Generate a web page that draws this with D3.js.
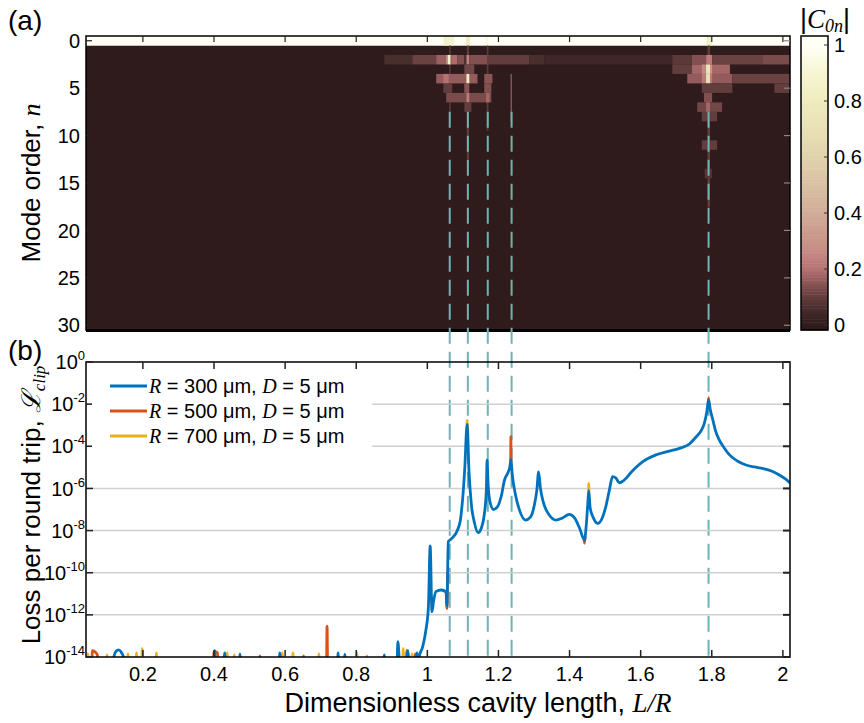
<!DOCTYPE html>
<html>
<head>
<meta charset="utf-8">
<script src="https://cdn.jsdelivr.net/npm/d3@7"></script>
<style>
body{margin:0;background:#fff}
svg{display:block}
text{font-family:"Liberation Sans",Arial,sans-serif;fill:#000}
.it{font-family:"Liberation Serif","Times New Roman",serif;font-style:italic}
</style>
</head>
<body>
<svg id="fig" width="864" height="723"></svg>
<script>
// ---- data ----
const xTicks = [0.2,0.4,0.6,0.8,1,1.2,1.4,1.6,1.8,2];
const xTickLabels = ["0.2","0.4","0.6","0.8","1","1.2","1.4","1.6","1.8","2"];
const nTicks = [0,5,10,15,20,25,30];
const lossExps = [0,-2,-4,-6,-8,-10,-12,-14];
const cbTicks = [0,0.2,0.4,0.6,0.8,1];
const cbTickLabels = ["0","0.2","0.4","0.6","0.8","1"];
const dashL = [1.063,1.114,1.170,1.237,1.791]; // resonances marked in both panels

// colormap
const cmapStops  = [0,0.05,0.1,0.15,0.2,0.25,0.3,0.4,0.5,0.6,0.7,0.8,0.9,1];
const cmapColors = ["#2f1b1b","#432a2a","#623d3d","#8a5555","#b57272","#c48682","#ca9488",
                    "#d2ac98","#d9c0a2","#e0d2ac","#e8e0b4","#efebbe","#f6f5d0","#fffff6"];

// |C0n| patches: [nFrom, nTo, L0, L1, value]
const heatStreaks = [
  [1,8,1.061,1.066,0.08],[1,12,1.111,1.117,0.10],[1,9,1.167,1.172,0.09],
  [4,8,1.234,1.238,0.15],[1,17,1.788,1.795,0.10]
];
const heatRow0 = [
  [0,0,0.04,2.02,1.0],[0,0,1.045,1.075,0.88],[0,0,1.108,1.120,0.83],
  [0,0,1.165,1.172,0.93],[0,0,1.785,1.800,0.84]
];
const heatRows = [
  [2,2,0.879,0.958,0.06],[2,2,0.958,1.025,0.11],[2,2,1.025,1.053,0.17],[2,2,1.053,1.057,0.35],
  [2,2,1.057,1.064,0.85],[2,2,1.064,1.067,0.40],[2,2,1.067,1.084,0.19],[2,2,1.084,1.104,0.14],
  [2,2,1.104,1.110,0.07],[2,2,1.110,1.118,0.24],[2,2,1.118,1.169,0.14],[2,2,1.169,1.287,0.10],
  [2,2,1.287,1.329,0.06],[2,2,1.329,1.689,0.04],[2,2,1.689,1.744,0.09],[2,2,1.744,1.784,0.14],
  [2,2,1.784,1.801,0.22],[2,2,1.801,1.942,0.11],[2,2,1.942,2.02,0.13],
  [3,3,1.104,1.132,0.12],[3,3,1.689,1.744,0.10],[3,3,1.744,1.851,0.18],[3,3,1.772,1.784,0.25],
  [3,3,1.784,1.795,0.75],[3,3,1.795,1.801,0.30],
  [4,4,1.025,1.141,0.16],[4,4,1.045,1.060,0.20],[4,4,1.110,1.118,0.82],[4,4,1.160,1.183,0.15],
  [4,4,1.731,1.858,0.16],[4,4,1.772,1.801,0.22],[4,4,1.784,1.795,0.70],[4,4,1.858,2.02,0.11],
  [5,5,1.045,1.070,0.10],[5,5,1.104,1.118,0.15],[5,5,1.160,1.180,0.14],[5,5,1.772,1.858,0.10],
  [5,5,1.976,2.02,0.10],
  [6,6,1.053,1.180,0.13],[6,6,1.110,1.118,0.22],[6,6,1.165,1.175,0.18],[6,6,1.778,1.801,0.14],
  [7,7,1.104,1.124,0.10],[7,7,1.759,1.829,0.12],[7,7,1.784,1.795,0.18],
  [8,8,1.772,1.815,0.10],[11,11,1.772,1.815,0.10],[14,14,1.780,1.800,0.08]
];

// loss per round trip, [L/R, log10 loss]; null = gap
const blueLoss = [
  [0.040,-15],[0.116,-15],[0.119,-13.95],[0.125,-13.72],[0.132,-13.66],[0.140,-13.8],[0.146,-14.05],[0.152,-15],
  [0.398,-15],[0.402,-13.7],[0.406,-15],[0.426,-15],[0.430,-13.8],[0.434,-15],
  [0.470,-15],[0.473,-13.86],[0.476,-15],[0.582,-15],[0.585,-13.8],[0.588,-15],
  [0.746,-15],[0.749,-13.8],[0.752,-15],[0.765,-15],[0.768,-13.88],[0.771,-15],
  [0.876,-15],[0.879,-13.9],[0.882,-15],[0.914,-15],[0.917,-13.27],[0.920,-13.85],[0.923,-15],
  [0.941,-15],[0.945,-13.7],[0.949,-15],[0.967,-15],[0.971,-13.8],[0.974,-14.3],
  [0.977,-13.99],[0.987,-13.51],[0.996,-12.72],[1.003,-11.63],[1.008,-8.73],[1.013,-11.85],
  [1.018,-11.3],[1.024,-10.9],[1.039,-10.82],[1.053,-10.92],[1.055,-11.58],[1.059,-8.53],
  [1.067,-8.4],[1.085,-7.97],[1.093,-7.5],[1.099,-6.55],[1.105,-5.13],[1.112,-2.96],[1.117,-5.13],
  [1.124,-6.79],[1.132,-7.59],[1.143,-8.1],[1.152,-7.88],[1.160,-7.26],[1.166,-6.08],[1.168,-4.65],
  [1.171,-5.84],[1.177,-6.69],[1.186,-7.0],[1.197,-6.88],[1.208,-6.36],[1.217,-5.6],[1.226,-5.28],
  [1.232,-4.98],[1.235,-4.62],[1.239,-5.36],[1.248,-6.31],[1.259,-7.02],[1.276,-7.5],[1.290,-7.36],
  [1.301,-6.79],[1.308,-6.08],[1.313,-5.21],[1.318,-5.98],[1.326,-6.64],[1.343,-7.26],[1.362,-7.5],
  [1.380,-7.4],[1.399,-7.23],[1.414,-7.4],[1.428,-7.88],[1.442,-8.45],[1.447,-7.74],[1.451,-6.79],
  [1.454,-6.11],[1.458,-6.93],[1.467,-7.4],[1.479,-7.66],[1.492,-7.4],[1.503,-6.79],[1.512,-6.08],
  [1.521,-5.44],[1.530,-5.5],[1.540,-5.73],[1.554,-5.6],[1.574,-5.22],[1.606,-4.73],[1.643,-4.41],
  [1.675,-4.25],[1.709,-4.1],[1.737,-3.89],[1.756,-3.55],[1.771,-3.23],[1.779,-2.91],[1.786,-2.37],
  [1.791,-1.8],[1.796,-2.28],[1.803,-2.75],[1.810,-3.23],[1.821,-3.7],[1.835,-4.08],[1.850,-4.41],
  [1.872,-4.7],[1.896,-4.89],[1.920,-4.98],[1.943,-5.05],[1.968,-5.17],[1.990,-5.36],[2.007,-5.55],
  [2.020,-5.74]
];
const orangeLoss = [
  [0.040,-15],[0.055,-15],[0.058,-13.7],[0.065,-13.75],[0.072,-13.9],[0.076,-15],
  [0.397,-15],[0.400,-13.75],[0.410,-13.8],[0.414,-15],[0.527,-15],[0.529,-13.95],[0.531,-15],
  [0.584,-15],[0.586,-13.9],[0.588,-15],[0.650,-15],[0.652,-13.95],[0.654,-15],
  [0.716,-15],[0.718,-12.53],[0.720,-15],[0.940,-15],[0.942,-13.7],[0.946,-13.9],[0.950,-15],
  [0.963,-15],[0.966,-13.85],[0.969,-15],null,
  [1.053,-10.92],[1.055,-11.7],[1.057,-10.0],null,
  [1.2345,-4.7],[1.235,-3.54],[1.2355,-4.7],null,
  [1.440,-8.3],[1.442,-8.6],[1.444,-8.3],null,
  [1.790,-2.0],[1.791,-1.69],[1.792,-2.0]
];
const yellowLoss = [
  [0.040,-15],[0.045,-13.85],[0.050,-15],[0.097,-15],[0.099,-13.9],[0.101,-15],
  [0.155,-15],[0.158,-13.85],[0.161,-15],[0.180,-15],[0.182,-13.8],[0.185,-15],
  [0.196,-15],[0.198,-13.6],[0.201,-15],[0.236,-15],[0.238,-13.8],[0.241,-15],
  [0.435,-15],[0.437,-13.8],[0.440,-15],[0.455,-15],[0.457,-13.9],[0.460,-15],
  [0.590,-15],[0.592,-13.8],[0.595,-15],[0.620,-15],[0.622,-13.8],[0.625,-15],
  [0.693,-15],[0.695,-13.85],[0.698,-15],[0.800,-15],[0.802,-13.8],[0.805,-15],
  [0.828,-15],[0.830,-13.95],[0.833,-15],[0.930,-15],[0.932,-13.6],[0.935,-15],
  [0.955,-15],[0.957,-13.85],[0.960,-15],null,
  [1.1115,-3.2],[1.112,-2.77],[1.1125,-3.2],null,
  [1.4535,-6.3],[1.454,-5.76],[1.4545,-6.3]
];
const seriesNames = ["300","500","700"];
const seriesColors = ["#0072bd","#d95319","#edb120"];

// ---- layout ----
const svg = d3.select("#fig");
const left = 86, right = 790;
const x = d3.scaleLinear().domain([0.04, 2.02]).range([left, right]);
const yN = d3.scaleLinear().domain([-0.5, 30.5]).range([36, 330]);
const yB = d3.scaleLog().domain([1e-14, 1]).range([657, 362]);
const color = d3.scaleLinear().domain(cmapStops).range(cmapColors).clamp(true);
const cb = d3.scaleLinear().domain([0, 1]).range([325, 45]);

// ---- panel (a): heatmap ----
const gA = svg.append("g");
gA.append("rect").attr("x", left).attr("y", yN(0.5)).attr("width", right-left)
  .attr("height", yN(30.5)-yN(0.5)).attr("fill", color(0));
gA.selectAll("rect.cell").data(heatRow0.concat(heatStreaks, heatRows)).join("rect")
  .attr("class","cell")
  .attr("x", d => x(d[2])).attr("width", d => x(d[3]) - x(d[2]))
  .attr("y", d => yN(d[0]-0.5)).attr("height", d => yN(d[1]+0.5) - yN(d[0]-0.5))
  .attr("fill", d => color(d[4]));

// ---- dashed markers spanning both panels ----
svg.append("g").selectAll("line").data(dashL).join("line")
  .attr("x1", d => x(d)).attr("x2", d => x(d))
  .attr("y1", yN(7.5)).attr("y2", yB(1e-14))
  .attr("stroke", "#6fb3b3").attr("stroke-width", 2).attr("stroke-dasharray", "16,8");

// heatmap frame and ticks
gA.append("rect").attr("x", left).attr("y", 36).attr("width", right-left).attr("height", 294)
  .attr("fill","none").attr("stroke","#000").attr("stroke-width",1.5);
gA.append("line").attr("x1", left).attr("x2", right).attr("y1", 330.5).attr("y2", 330.5)
  .attr("stroke","#000").attr("stroke-width",3);
gA.selectAll("line.tt").data(xTicks).join("line").attr("class","tt")
  .attr("x1", d => x(d)).attr("x2", d => x(d)).attr("y1", 36).attr("y2", 42)
  .attr("stroke","#222").attr("stroke-width",1.2);
gA.selectAll("line.lt").data(nTicks).join("line").attr("class","lt")
  .attr("x1", left).attr("x2", left+6).attr("y1", d => yN(d)).attr("y2", d => yN(d))
  .attr("stroke","#222").attr("stroke-width",1.2);
gA.selectAll("line.rt").data(nTicks).join("line").attr("class","rt")
  .attr("x1", right).attr("x2", right-6).attr("y1", d => yN(d)).attr("y2", d => yN(d))
  .attr("stroke","#888").attr("stroke-width",1.2);
gA.selectAll("text.nl").data(nTicks).join("text").attr("class","nl")
  .attr("x", 80).attr("y", d => yN(d)).attr("dy","0.36em")
  .attr("text-anchor","end").attr("font-size",20).text(d => d);

// colorbar
const cbG = svg.append("g");
const cbSteps = d3.range(-0.02, 1.04, 0.01);
cbG.selectAll("rect").data(cbSteps).join("rect")
  .attr("x", 801).attr("width", 27)
  .attr("y", d => Math.max(36, cb(d + 0.01))).attr("height", d => Math.min(330, cb(d)) - Math.max(36, cb(d + 0.01)) + 0.5)
  .attr("fill", d => color(d + 0.005));
cbG.append("rect").attr("x", 801).attr("y", 36).attr("width", 27).attr("height", 294)
  .attr("fill","none").attr("stroke","#000").attr("stroke-width",1.5);
cbG.selectAll("line").data(cbTicks).join("line")
  .attr("x1", 828).attr("x2", 824).attr("y1", d => cb(d)).attr("y2", d => cb(d))
  .attr("stroke","#333").attr("stroke-width",1);
cbG.selectAll("text").data(cbTicks).join("text")
  .attr("x", 834).attr("y", d => cb(d)).attr("dy","0.36em").attr("font-size",20)
  .text((d,i) => cbTickLabels[i]);
const cbTitle = svg.append("text").attr("x", 800).attr("y", 28).attr("font-size", 27)
  .attr("font-family","Liberation Serif, serif");
cbTitle.append("tspan").text("|");
cbTitle.append("tspan").attr("class","it").text("C");
cbTitle.append("tspan").attr("class","it").attr("font-size",18).attr("dy",4).text("0n");
cbTitle.append("tspan").attr("dy",-4).text("|");

// ---- panel (b): loss ----
const gB = svg.append("g");
gB.selectAll("line.grid").data(lossExps.slice(1, -1)).join("line").attr("class","grid")
  .attr("x1", left).attr("x2", right).attr("y1", d => yB(10 ** d)).attr("y2", d => yB(10 ** d))
  .attr("stroke","#d0d0d0").attr("stroke-width",1.5);

svg.append("defs").append("clipPath").attr("id","clipB").append("rect")
  .attr("x", left).attr("y", 362).attr("width", right-left).attr("height", 295);
const line = d3.line().defined(d => d !== null)
  .x(d => x(d[0])).y(d => yB(10 ** d[1])).curve(d3.curveMonotoneX);
const curves = [blueLoss, orangeLoss, yellowLoss];
gB.append("g").attr("clip-path","url(#clipB)").selectAll("path")
  .data([2,1,0]).join("path")
  .attr("d", i => line(curves[i])).attr("fill","none")
  .attr("stroke", i => seriesColors[i]).attr("stroke-width", 2.8)
  .attr("stroke-linejoin","round");

gB.append("rect").attr("x", left).attr("y", 362).attr("width", right-left).attr("height", 295)
  .attr("fill","none").attr("stroke","#000").attr("stroke-width",1.5);
gB.selectAll("line.bt").data(xTicks).join("line").attr("class","bt")
  .attr("x1", d => x(d)).attr("x2", d => x(d)).attr("y1", 657).attr("y2", 650)
  .attr("stroke","#222").attr("stroke-width",1.5);
gB.selectAll("line.tt").data(xTicks).join("line").attr("class","tt")
  .attr("x1", d => x(d)).attr("x2", d => x(d)).attr("y1", 362).attr("y2", 369)
  .attr("stroke","#222").attr("stroke-width",1.5);
gB.selectAll("line.lt").data(lossExps).join("line").attr("class","lt")
  .attr("x1", left).attr("x2", left+7).attr("y1", d => yB(10 ** d)).attr("y2", d => yB(10 ** d))
  .attr("stroke","#222").attr("stroke-width",1.5);
gB.selectAll("line.rt").data(lossExps).join("line").attr("class","rt")
  .attr("x1", right).attr("x2", right-7).attr("y1", d => yB(10 ** d)).attr("y2", d => yB(10 ** d))
  .attr("stroke","#222").attr("stroke-width",2);
gB.selectAll("text.xl").data(xTicks).join("text").attr("class","xl")
  .attr("x", d => x(d)).attr("y", 681).attr("text-anchor","middle").attr("font-size",20)
  .text((d,i) => xTickLabels[i]);
const yl = gB.selectAll("text.yl").data(lossExps).join("text").attr("class","yl")
  .attr("x", 85).attr("y", d => yB(10 ** d)).attr("dy","0.36em")
  .attr("text-anchor","end").attr("font-size",20);
yl.append("tspan").text("10");
yl.append("tspan").attr("font-size",13).attr("dy",-9).text(d => d === 0 ? "0" : "-" + (-d));

// legend
const lg = gB.append("g");
lg.append("rect").attr("x", 92).attr("y", 369).attr("width", 280).attr("height", 78).attr("fill","#fff");
const lgRows = lg.selectAll("g").data([0,1,2]).join("g")
  .attr("transform", i => `translate(0,${386 + i*25})`);
lgRows.append("line").attr("x1",110).attr("x2",147).attr("stroke", i => seriesColors[i]).attr("stroke-width",2.8);
const lgt = lgRows.append("text").attr("x",149).attr("y",7).attr("font-size",20);
lgt.append("tspan").attr("class","it").text("R");
lgt.append("tspan").text(i => ` = ${seriesNames[i]} μm, `);
lgt.append("tspan").attr("class","it").text("D");
lgt.append("tspan").text(" = 5 μm");

// ---- labels ----
svg.append("text").attr("x", 8).attr("y", 30).attr("font-size", 28).text("(a)");
svg.append("text").attr("x", 8).attr("y", 360).attr("font-size", 28).text("(b)");

const xl = svg.append("text").attr("x", 478).attr("y", 712).attr("text-anchor","middle").attr("font-size",27);
xl.append("tspan").text("Dimensionless cavity length, ");
xl.append("tspan").attr("class","it").text("L/R");

const ya = svg.append("text").attr("transform","translate(40,183) rotate(-90)")
  .attr("text-anchor","middle").attr("font-size",26);
ya.append("tspan").text("Mode order, ");
ya.append("tspan").attr("class","it").text("n");

const yb = svg.append("text").attr("transform","translate(40,505) rotate(-90)")
  .attr("text-anchor","middle").attr("font-size",26);
yb.append("tspan").text("Loss per round trip, ");
yb.append("tspan").attr("class","it").text("ℒ");
yb.append("tspan").attr("class","it").attr("font-size",17).attr("dy",5).text("clip");
</script>
</body>
</html>
